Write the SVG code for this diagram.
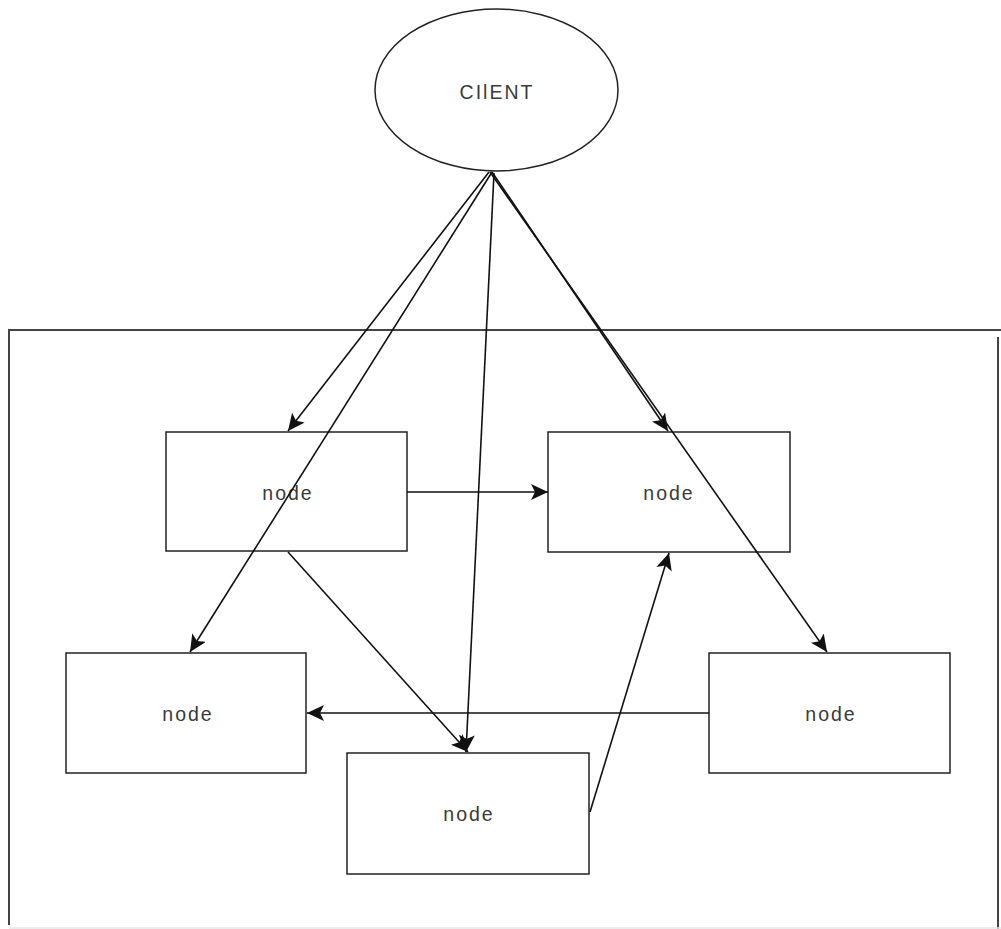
<svg xmlns="http://www.w3.org/2000/svg" width="1001" height="929" viewBox="0 0 1001 929">
  <style>
    .box { fill: #ffffff; stroke: #222222; stroke-width: 1.5; }
    .frame { fill: none; stroke: #444444; stroke-width: 2; }
    .label { font-family: "Liberation Sans", Arial, sans-serif; font-size: 19.5px; letter-spacing: 2px; fill: #3a3a3a; text-anchor: middle; dominant-baseline: central; }
    .edge { fill: none; stroke: #111111; stroke-width: 1.6; marker-end: url(#arrow); }
  </style>
  <defs>
    <marker id="arrow" markerUnits="userSpaceOnUse" markerWidth="18" markerHeight="16" viewBox="0 0 18 16" refX="17" refY="8" orient="auto">
      <path d="M0,0 L17,8 L0,16 L4,8 z" fill="#111111"/>
    </marker>
  </defs>

  <rect width="1001" height="929" fill="#ffffff"/>

  <!-- outer cluster frame -->
  <g id="cluster">
    <path class="frame" d="M9,925 L9,330 L1001,330"/>
    <line class="frame" x1="998" y1="337" x2="998" y2="929"/>
    <line x1="9" y1="928" x2="1001" y2="928" stroke="#e6e6e6" stroke-width="1.5"/>
  </g>

  <g id="client">
    <ellipse class="box" cx="496.5" cy="90" rx="121.5" ry="81"/>
    <text class="label" x="497" y="92">CIlENT</text>
  </g>

  <g id="node-a">
    <rect class="box" x="166" y="432" width="241" height="119"/>
    <text class="label" x="288" y="493">node</text>
  </g>
  <g id="node-b">
    <rect class="box" x="548" y="432" width="242" height="120"/>
    <text class="label" x="669" y="493">node</text>
  </g>
  <g id="node-c">
    <rect class="box" x="66" y="653" width="240" height="120"/>
    <text class="label" x="188" y="714">node</text>
  </g>
  <g id="node-d">
    <rect class="box" x="347" y="753" width="242" height="121"/>
    <text class="label" x="469" y="814">node</text>
  </g>
  <g id="node-e">
    <rect class="box" x="709" y="653" width="241" height="120"/>
    <text class="label" x="831" y="714">node</text>
  </g>

  <g id="connectors">
    <line class="edge" x1="489" y1="172" x2="288" y2="431"/>
    <line class="edge" x1="492" y1="172" x2="190" y2="652"/>
    <line class="edge" x1="494" y1="173" x2="466" y2="752"/>
    <line class="edge" x1="492" y1="172" x2="668" y2="431"/>
    <line class="edge" x1="490" y1="172" x2="827" y2="652"/>
    <line class="edge" x1="407" y1="492" x2="548" y2="492"/>
    <line class="edge" x1="288" y1="552" x2="468" y2="752"/>
    <line class="edge" x1="709" y1="713" x2="307" y2="713"/>
    <line class="edge" x1="590" y1="812" x2="669" y2="553"/>
  </g>
</svg>
